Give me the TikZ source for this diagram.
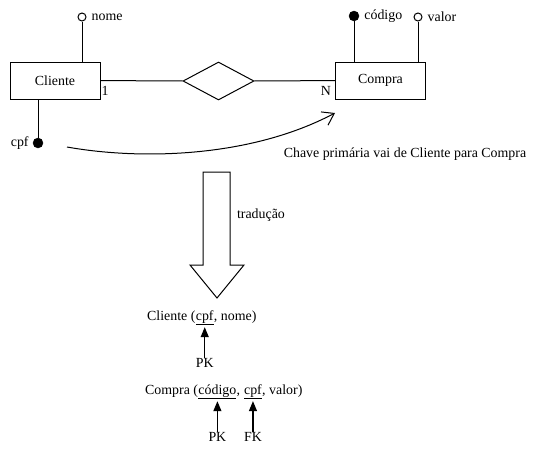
\documentclass[tikz,border=0pt]{standalone}
\usepackage{fontspec}
\setmainfont{Liberation Serif}
\usepackage{tikz}
\usetikzlibrary{shapes.geometric, arrows.meta, positioning}
\tikzstyle{entity} = [rectangle, minimum width=90pt, minimum height=37pt, inner sep=0pt, draw=black, line width=1pt]
\tikzstyle{rel} = [diamond, minimum width=71pt, minimum height=38pt, inner sep=0pt, draw=black, line width=1pt]
\tikzstyle{attr} = [circle, minimum size=8pt, inner sep=0pt, draw=black, fill=white, line width=1pt]
\tikzstyle{key} = [circle, minimum size=10pt, inner sep=0pt, draw=black, fill=black]
\tikzstyle{txt} = [inner sep=0pt]
\tikzstyle{line} = [line width=1pt]
\tikzstyle{chave} = [line width=1pt,-{Straight Barb[length=11pt,width=15pt]}]
\tikzstyle{pointer} = [line width=1.2pt,-{Triangle[width=8pt,length=10pt]}]

\begin{document}
\begin{tikzpicture}[x=1pt,y=-1pt,font=\fontsize{13.9}{16}\selectfont]
\useasboundingbox (0,0) rectangle (536,453);

\node(cliente)[entity] at (55,80.5) {Cliente};
\node(compra)[entity] at (380.5,80.5) {Compra};
\node(faz)[rel] at (218.5,81) {};

\node(nome)[attr] at (82,17) {};
\node(cpf)[key] at (38,143) {};
\node(codigo)[key] at (354,16) {};
\node(valor)[attr] at (418,17) {};

\node[txt,right=5pt of nome] {nome};
\node[txt,left=4pt of cpf] {cpf};
\node[txt,right=5pt of codigo] {código};
\node[txt,right=5pt of valor] {valor};
\node(um)[txt] at (105,91) {1};
\node(ene)[txt] at (326,91) {N};

\draw [line] (nome) -- (nome |- cliente.north);
\draw [line] (cpf) -- (cpf |- cliente.south);
\draw [line] (codigo) -- (codigo |- compra.north);
\draw [line] (valor) -- (valor |- compra.north);
\draw [line] (cliente) -- (faz);
\draw [line] (faz) -- (compra);

\coordinate(chaveA) at (67,147);
\coordinate(chaveB) at (335,113);
\draw [chave] (chaveA) .. controls (140,160) and (250,158) .. (chaveB);
\node(chave)[txt] at (405,154) {Chave primária vai de Cliente para Compra};

\draw [line] (203,172) -- (230,172) -- (230,265) -- (244,265) -- (217,298) -- (190,265) -- (203,265) -- cycle;
\node(traducao)[txt] at (261,215) {tradução};

\node(cliA)[txt,anchor=base west] at (147,320) {Cliente (};
\node(cliB)[txt,anchor=base west] at (cliA.base east) {\underline{cpf}};
\node(cliC)[txt,anchor=base west] at (cliB.base east) {, nome)};
\node(pkA)[txt,below=33pt of cliB] {PK};
\draw [pointer] (pkA) -- ([yshift=-2pt]cliB.south);

\node(comA)[txt,anchor=base west] at (145,394) {Compra (};
\node(comB)[txt,anchor=base west] at (comA.base east) {\underline{código}};
\node(comC)[txt,anchor=base west] at (comB.base east) {,\kern3.5pt};
\node(comD)[txt,anchor=base west] at (comC.base east) {\underline{cpf}};
\node(comE)[txt,anchor=base west] at (comD.base east) {, valor)};
\node(pkB)[txt,below=33pt of comB] {PK};
\node(fkB)[txt,below=33pt of comD] {FK};
\draw [pointer] (pkB) -- ([yshift=-2pt]comB.south);
\draw [pointer] (fkB) -- ([yshift=-2pt]comD.south);
\end{tikzpicture}
\end{document}
